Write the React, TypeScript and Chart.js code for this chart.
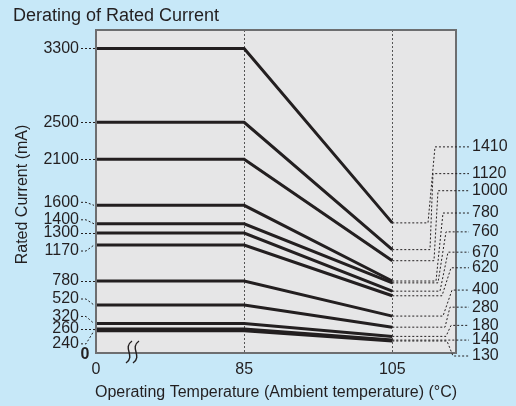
import React, { useEffect, useRef } from 'react';
import { Chart, registerables } from 'chart.js';

Chart.register(...registerables);

const chartTitle = 'Derating of Rated Current';
const yTitle = 'Rated Current (mA)';
const xTitle = 'Operating Temperature (Ambient temperature) (°C)';
const temperatureTicks = ['0', '85', '105'];
const current85 = [3300, 2500, 2100, 1600, 1400, 1300, 1170, 780, 520, 320, 260, 240];
const current105 = [1410, 1120, 1000, 780, 760, 670, 620, 400, 280, 180, 140, 130];

const FONT = '"Liberation Sans", Arial, Helvetica, sans-serif';
const INK = '#231f20';

// label offsets (px) for leader lines
const leftDy = [0, 0, 0, -3, -4, 0, 6, 0, -6, -7, 0, 13];
const rightDy = [-76, -76, -70, -68, -51, -39, -28, -26, -20, -11, 0, 15];
const rightXa = [28, 26, 22, 20, 18, 16, 14, 13, 11, 10, 9, 9];
const rightXb = [21, 23, 18, 13, 10, 8, 5, 4, 6, 5, 9, 3];

const decorPlugin = {
  id: 'decor',
  beforeDatasetsDraw(chart: any) {
    const { ctx, chartArea: a, scales } = chart;
    ctx.save();
    ctx.fillStyle = '#e6e6e7';
    ctx.fillRect(a.left, a.top, a.right - a.left, a.bottom - a.top);
    ctx.strokeStyle = '#555';
    ctx.lineWidth = 1;
    ctx.setLineDash([2, 2]);
    [1, 2].forEach((k) => {
      const x = Math.round(scales.x.getPixelForValue(k)) + 0.5;
      ctx.beginPath();
      ctx.moveTo(x, a.top);
      ctx.lineTo(x, a.bottom);
      ctx.stroke();
    });
    ctx.restore();
  },
  afterDatasetsDraw(chart: any) {
    const { ctx, chartArea: a, scales } = chart;
    const xs = scales.x;
    const ys = scales.y;
    ctx.save();
    // border
    ctx.strokeStyle = '#6d6e70';
    ctx.lineWidth = 2;
    ctx.strokeRect(a.left, a.top, a.right - a.left, a.bottom - a.top);

    // left labels + leaders
    ctx.font = `16px ${FONT}`;
    ctx.fillStyle = INK;
    ctx.textAlign = 'right';
    ctx.textBaseline = 'middle';
    const lx = a.left - 17;
    current85.forEach((v, i) => {
      const ly = ys.getPixelForValue(v);
      const ty = ly + leftDy[i];
      ctx.fillText(String(v), lx, ty);
      ctx.save();
      ctx.strokeStyle = INK;
      ctx.lineWidth = 1;
      ctx.setLineDash([2, 2]);
      ctx.beginPath();
      if (leftDy[i] === 0) {
        ctx.moveTo(lx + 2, Math.round(ty) + 0.5);
        ctx.lineTo(a.left, Math.round(ty) + 0.5);
      } else {
        ctx.moveTo(lx + 2, ty);
        ctx.lineTo(lx + 7, ty);
        ctx.lineTo(a.left - 2, ly);
      }
      ctx.stroke();
      ctx.restore();
    });
    ctx.font = `bold 16px ${FONT}`;
    ctx.textAlign = 'center';
    ctx.fillText('0', a.left - 11, a.bottom + 2);

    // right labels + leaders
    ctx.font = `16px ${FONT}`;
    ctx.textAlign = 'left';
    const xEnd = xs.getPixelForValue(2);
    current105.forEach((v, i) => {
      const ly = ys.getPixelForValue(v);
      const ty = ly + rightDy[i];
      ctx.fillText(String(v), a.right + 16, ty);
      ctx.save();
      ctx.strokeStyle = INK;
      ctx.lineWidth = 1;
      ctx.setLineDash([2, 2]);
      ctx.beginPath();
      ctx.moveTo(xEnd, ly);
      ctx.lineTo(a.right - rightXa[i], ly);
      ctx.lineTo(a.right - rightXb[i], ty);
      ctx.lineTo(a.right + 13, ty);
      ctx.stroke();
      ctx.restore();
    });

    // x tick labels
    ctx.textAlign = 'center';
    ctx.textBaseline = 'alphabetic';
    temperatureTicks.forEach((t, k) => {
      ctx.fillText(t, xs.getPixelForValue(k), a.bottom + 21);
    });

    // axis titles
    ctx.fillText(xTitle, (a.left + a.right) / 2, a.bottom + 44);
    ctx.save();
    ctx.translate(27, (a.top + a.bottom) / 2 + 3);
    ctx.rotate(-Math.PI / 2);
    ctx.fillText(yTitle, 0, 0);
    ctx.restore();

    // chart title
    ctx.font = `18px ${FONT}`;
    ctx.textAlign = 'left';
    ctx.fillText(chartTitle, 13, 21);

    // axis break symbol
    ctx.strokeStyle = INK;
    ctx.lineWidth = 1.4;
    [129, 136].forEach((x) => {
      ctx.beginPath();
      ctx.moveTo(x + 3, a.bottom - 12);
      ctx.bezierCurveTo(x - 7, a.bottom - 5, x + 7, a.bottom + 3, x - 3, a.bottom + 10);
      ctx.stroke();
    });
    ctx.restore();
  },
};

export default function App() {
  const ref = useRef<HTMLCanvasElement | null>(null);
  useEffect(() => {
    document.body.style.margin = '0';
    const datasets = current85.map((v, i) => ({
      label: String(v),
      data: [
        { x: 0, y: v },
        { x: 1, y: v },
        { x: 2, y: current105[i] },
      ],
      borderColor: INK,
      borderWidth: 3,
      pointRadius: 0,
      fill: false,
      tension: 0,
    }));
    const chart = new Chart(ref.current as HTMLCanvasElement, {
      type: 'line',
      data: { datasets },
      options: {
        animation: false,
        responsive: true,
        maintainAspectRatio: false,
        layout: { padding: { top: 30, right: 60, left: 0, bottom: 0 } },
        plugins: { legend: { display: false }, tooltip: { enabled: false }, title: { display: false } },
        scales: {
          x: {
            type: 'linear',
            min: 0,
            max: 2.43,
            grid: { display: false },
            border: { display: false },
            ticks: { display: false },
            afterFit: (s: any) => { s.height = 53; },
          },
          y: {
            type: 'linear',
            min: 0,
            max: 3500,
            grid: { display: false },
            border: { display: false },
            ticks: { display: false },
            afterFit: (s: any) => { s.width = 96; },
          },
        },
      } as any,
      plugins: [decorPlugin],
    });
    return () => chart.destroy();
  }, []);
  return (
    <div style={{ position: 'absolute', left: 0, top: 0, width: 516, height: 406, background: '#c7e8f8' }}>
      <canvas ref={ref} />
    </div>
  );
}
